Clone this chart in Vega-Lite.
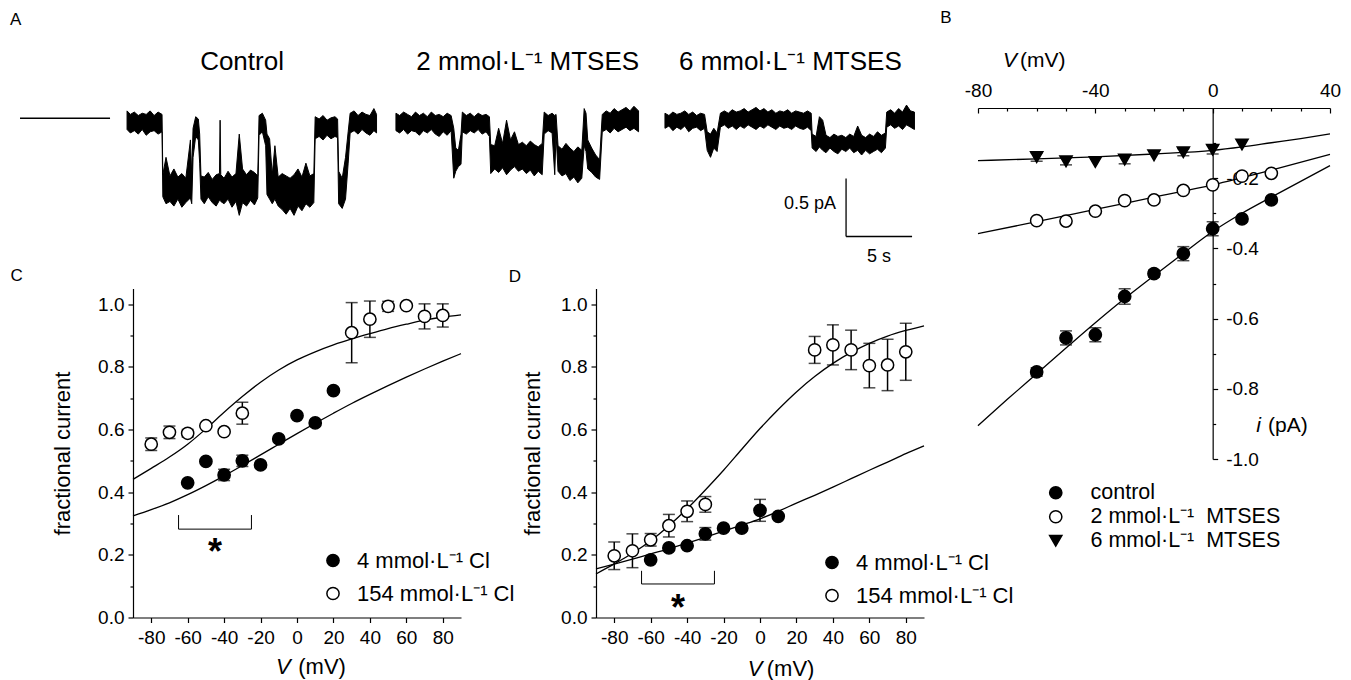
{
"$schema": "https://vega.github.io/schema/vega-lite/v6.json",
"background": "white",
"padding": {"left": 9, "top": 9, "right": 5, "bottom": 0},
"bounds": "flush",
"spacing": 845,
"resolve": {"scale": {"fill": "independent", "shape": "independent", "stroke": "independent"}, "legend": {"fill": "independent", "shape": "independent", "stroke": "independent"}},
"hconcat": [
{
"bounds": "flush",
"spacing": 32.5,
"resolve": {"scale": {"fill": "independent", "shape": "independent"}, "legend": {"fill": "independent", "shape": "independent"}},
"vconcat": [
{
"width": 792, "height": 148,
"layer": [
{"data": {"values": [
{"s":"c","t":0.05,"lo":-0.06,"hi":0.10},{"s":"c","t":0.3,"lo":-0.09,"hi":0.07},{"s":"c","t":0.6,"lo":-0.07,"hi":0.09},{"s":"c","t":0.9,"lo":-0.10,"hi":0.06},{"s":"c","t":1.2,"lo":-0.06,"hi":0.08},{"s":"c","t":1.5,"lo":-0.11,"hi":0.07},{"s":"c","t":1.8,"lo":-0.08,"hi":0.10},{"s":"c","t":2.1,"lo":-0.07,"hi":0.06},{"s":"c","t":2.4,"lo":-0.10,"hi":0.09},{"s":"c","t":2.7,"lo":-0.08,"hi":0.07},
{"s":"c","t":2.76,"lo":-0.64,"hi":-0.45},{"s":"c","t":3.0,"lo":-0.70,"hi":-0.30},{"s":"c","t":3.3,"lo":-0.68,"hi":-0.46},{"s":"c","t":3.6,"lo":-0.72,"hi":-0.40},{"s":"c","t":3.9,"lo":-0.66,"hi":-0.47},{"s":"c","t":4.2,"lo":-0.73,"hi":-0.44},{"s":"c","t":4.5,"lo":-0.69,"hi":-0.48},{"s":"c","t":4.85,"lo":-0.65,"hi":-0.15},{"s":"c","t":4.95,"lo":-0.70,"hi":-0.45},
{"s":"c","t":5.05,"lo":-0.30,"hi":-0.05},{"s":"c","t":5.25,"lo":-0.12,"hi":0.05},{"s":"c","t":5.45,"lo":-0.15,"hi":0.03},{"s":"c","t":5.55,"lo":-0.35,"hi":-0.10},
{"s":"c","t":5.65,"lo":-0.66,"hi":-0.46},{"s":"c","t":5.9,"lo":-0.70,"hi":-0.47},{"s":"c","t":6.2,"lo":-0.64,"hi":-0.43},{"s":"c","t":6.5,"lo":-0.69,"hi":-0.49},{"s":"c","t":6.8,"lo":-0.72,"hi":-0.45},{"s":"c","t":7.05,"lo":-0.67,"hi":-0.44},{"s":"c","t":7.1,"lo":-0.67,"hi":0.02},{"s":"c","t":7.15,"lo":-0.68,"hi":-0.45},{"s":"c","t":7.4,"lo":-0.70,"hi":-0.48},{"s":"c","t":7.7,"lo":-0.66,"hi":-0.42},{"s":"c","t":8.0,"lo":-0.73,"hi":-0.47},{"s":"c","t":8.3,"lo":-0.68,"hi":-0.44},{"s":"c","t":8.55,"lo":-0.80,"hi":-0.10},{"s":"c","t":8.8,"lo":-0.69,"hi":-0.40},{"s":"c","t":9.1,"lo":-0.72,"hi":-0.45},{"s":"c","t":9.4,"lo":-0.67,"hi":-0.41},{"s":"c","t":9.7,"lo":-0.71,"hi":-0.43},{"s":"c","t":9.95,"lo":-0.65,"hi":-0.46},
{"s":"c","t":10.05,"lo":-0.11,"hi":0.06},{"s":"c","t":10.3,"lo":-0.08,"hi":0.08},{"s":"c","t":10.55,"lo":-0.20,"hi":0.02},
{"s":"c","t":10.65,"lo":-0.62,"hi":-0.10},{"s":"c","t":10.85,"lo":-0.66,"hi":-0.14},{"s":"c","t":11.05,"lo":-0.70,"hi":-0.45},{"s":"c","t":11.25,"lo":-0.66,"hi":-0.20},{"s":"c","t":11.5,"lo":-0.72,"hi":-0.47},{"s":"c","t":11.8,"lo":-0.75,"hi":-0.44},{"s":"c","t":12.1,"lo":-0.79,"hi":-0.46},{"s":"c","t":12.4,"lo":-0.74,"hi":-0.48},{"s":"c","t":12.7,"lo":-0.80,"hi":-0.45},{"s":"c","t":13.0,"lo":-0.72,"hi":-0.40},{"s":"c","t":13.3,"lo":-0.76,"hi":-0.47},{"s":"c","t":13.6,"lo":-0.70,"hi":-0.35},{"s":"c","t":13.9,"lo":-0.73,"hi":-0.46},{"s":"c","t":14.2,"lo":-0.69,"hi":-0.44},
{"s":"c","t":14.3,"lo":-0.14,"hi":0.05},{"s":"c","t":14.6,"lo":-0.12,"hi":0.03},{"s":"c","t":14.9,"lo":-0.15,"hi":0.06},{"s":"c","t":15.2,"lo":-0.11,"hi":0.02},{"s":"c","t":15.5,"lo":-0.14,"hi":0.04},{"s":"c","t":15.8,"lo":-0.12,"hi":0.05},{"s":"c","t":16.0,"lo":-0.13,"hi":0.03},
{"s":"c","t":16.08,"lo":-0.70,"hi":-0.42},{"s":"c","t":16.35,"lo":-0.74,"hi":-0.48},{"s":"c","t":16.6,"lo":-0.66,"hi":-0.30},
{"s":"c","t":16.8,"lo":-0.35,"hi":-0.08},{"s":"c","t":16.95,"lo":-0.09,"hi":0.08},{"s":"c","t":17.25,"lo":-0.07,"hi":0.10},{"s":"c","t":17.55,"lo":-0.10,"hi":0.06},{"s":"c","t":17.85,"lo":-0.06,"hi":0.09},{"s":"c","t":18.15,"lo":-0.09,"hi":0.07},{"s":"c","t":18.45,"lo":-0.11,"hi":0.06},{"s":"c","t":18.75,"lo":-0.07,"hi":0.12},{"s":"c","t":18.95,"lo":-0.09,"hi":0.07},
{"s":"m2","t":20.42,"lo":-0.07,"hi":0.08},{"s":"m2","t":20.7,"lo":-0.09,"hi":0.06},{"s":"m2","t":21.0,"lo":-0.06,"hi":0.09},{"s":"m2","t":21.3,"lo":-0.10,"hi":0.07},{"s":"m2","t":21.6,"lo":-0.07,"hi":0.05},{"s":"m2","t":21.9,"lo":-0.08,"hi":0.09},{"s":"m2","t":22.2,"lo":-0.11,"hi":0.06},{"s":"m2","t":22.5,"lo":-0.07,"hi":0.08},{"s":"m2","t":22.8,"lo":-0.09,"hi":0.05},{"s":"m2","t":23.1,"lo":-0.06,"hi":0.09},{"s":"m2","t":23.4,"lo":-0.10,"hi":0.06},{"s":"m2","t":23.7,"lo":-0.12,"hi":0.07},{"s":"m2","t":24.0,"lo":-0.08,"hi":0.05},{"s":"m2","t":24.3,"lo":-0.11,"hi":0.08},{"s":"m2","t":24.6,"lo":-0.07,"hi":0.06},
{"s":"m2","t":24.8,"lo":-0.48,"hi":-0.05},{"s":"m2","t":24.95,"lo":-0.42,"hi":-0.22},{"s":"m2","t":25.15,"lo":-0.38,"hi":-0.24},{"s":"m2","t":25.35,"lo":-0.36,"hi":-0.10},
{"s":"m2","t":25.45,"lo":-0.08,"hi":0.09},{"s":"m2","t":25.75,"lo":-0.10,"hi":0.06},{"s":"m2","t":26.05,"lo":-0.07,"hi":0.08},{"s":"m2","t":26.35,"lo":-0.09,"hi":0.05},{"s":"m2","t":26.65,"lo":-0.06,"hi":0.08},{"s":"m2","t":26.95,"lo":-0.10,"hi":0.06},{"s":"m2","t":27.25,"lo":-0.08,"hi":0.07},{"s":"m2","t":27.5,"lo":-0.12,"hi":0.05},
{"s":"m2","t":27.6,"lo":-0.44,"hi":-0.19},{"s":"m2","t":27.9,"lo":-0.40,"hi":-0.20},{"s":"m2","t":28.2,"lo":-0.43,"hi":-0.05},{"s":"m2","t":28.5,"lo":-0.39,"hi":-0.18},{"s":"m2","t":28.8,"lo":-0.45,"hi":0.02},{"s":"m2","t":29.1,"lo":-0.41,"hi":-0.15},{"s":"m2","t":29.4,"lo":-0.38,"hi":-0.08},{"s":"m2","t":29.7,"lo":-0.42,"hi":-0.19},{"s":"m2","t":30.0,"lo":-0.40,"hi":-0.17},{"s":"m2","t":30.3,"lo":-0.44,"hi":-0.20},{"s":"m2","t":30.6,"lo":-0.41,"hi":-0.16},{"s":"m2","t":30.9,"lo":-0.46,"hi":-0.19},{"s":"m2","t":31.2,"lo":-0.42,"hi":-0.21},{"s":"m2","t":31.5,"lo":-0.45,"hi":-0.18},
{"s":"m2","t":31.65,"lo":-0.10,"hi":0.09},{"s":"m2","t":31.95,"lo":-0.07,"hi":0.06},{"s":"m2","t":32.25,"lo":-0.09,"hi":0.08},{"s":"m2","t":32.45,"lo":-0.45,"hi":0.06},{"s":"m2","t":32.55,"lo":-0.10,"hi":0.07},
{"s":"m2","t":32.7,"lo":-0.42,"hi":-0.20},{"s":"m2","t":33.0,"lo":-0.46,"hi":-0.23},{"s":"m2","t":33.3,"lo":-0.44,"hi":-0.18},{"s":"m2","t":33.6,"lo":-0.50,"hi":-0.22},{"s":"m2","t":33.9,"lo":-0.47,"hi":-0.25},{"s":"m2","t":34.2,"lo":-0.52,"hi":-0.21},{"s":"m2","t":34.5,"lo":-0.48,"hi":-0.24},
{"s":"m2","t":34.68,"lo":-0.20,"hi":0.12},{"s":"m2","t":34.82,"lo":-0.25,"hi":0.08},
{"s":"m2","t":34.95,"lo":-0.40,"hi":-0.15},{"s":"m2","t":35.25,"lo":-0.43,"hi":-0.22},{"s":"m2","t":35.55,"lo":-0.47,"hi":-0.28},{"s":"m2","t":35.85,"lo":-0.49,"hi":-0.32},
{"s":"m2","t":36.05,"lo":-0.08,"hi":0.07},{"s":"m2","t":36.35,"lo":-0.06,"hi":0.10},{"s":"m2","t":36.65,"lo":-0.09,"hi":0.08},{"s":"m2","t":36.95,"lo":-0.05,"hi":0.12},{"s":"m2","t":37.25,"lo":-0.08,"hi":0.09},{"s":"m2","t":37.55,"lo":-0.06,"hi":0.11},{"s":"m2","t":37.85,"lo":-0.04,"hi":0.13},{"s":"m2","t":38.15,"lo":-0.07,"hi":0.10},{"s":"m2","t":38.45,"lo":-0.05,"hi":0.14},{"s":"m2","t":38.8,"lo":-0.08,"hi":0.10},
{"s":"m6","t":40.8,"lo":-0.05,"hi":0.08},{"s":"m6","t":41.1,"lo":-0.03,"hi":0.06},{"s":"m6","t":41.4,"lo":-0.07,"hi":0.09},{"s":"m6","t":41.7,"lo":-0.04,"hi":0.07},{"s":"m6","t":42.0,"lo":-0.06,"hi":0.08},{"s":"m6","t":42.3,"lo":-0.03,"hi":0.10},{"s":"m6","t":42.6,"lo":-0.08,"hi":0.07},{"s":"m6","t":42.9,"lo":-0.05,"hi":0.09},{"s":"m6","t":43.2,"lo":-0.04,"hi":0.06},{"s":"m6","t":43.5,"lo":-0.07,"hi":0.08},{"s":"m6","t":43.8,"lo":-0.05,"hi":0.07},
{"s":"m6","t":44.0,"lo":-0.24,"hi":-0.08},{"s":"m6","t":44.25,"lo":-0.30,"hi":-0.10},{"s":"m6","t":44.5,"lo":-0.22,"hi":-0.05},{"s":"m6","t":44.75,"lo":-0.25,"hi":-0.09},
{"s":"m6","t":45.0,"lo":-0.04,"hi":0.08},{"s":"m6","t":45.3,"lo":-0.02,"hi":0.10},{"s":"m6","t":45.6,"lo":-0.05,"hi":0.08},{"s":"m6","t":45.9,"lo":-0.03,"hi":0.11},{"s":"m6","t":46.2,"lo":-0.06,"hi":0.09},{"s":"m6","t":46.5,"lo":-0.03,"hi":0.10},{"s":"m6","t":46.8,"lo":-0.05,"hi":0.12},{"s":"m6","t":47.1,"lo":-0.02,"hi":0.09},{"s":"m6","t":47.4,"lo":-0.04,"hi":0.11},{"s":"m6","t":47.7,"lo":-0.06,"hi":0.13},{"s":"m6","t":48.0,"lo":-0.03,"hi":0.10},{"s":"m6","t":48.3,"lo":-0.05,"hi":0.12},{"s":"m6","t":48.6,"lo":-0.02,"hi":0.09},{"s":"m6","t":48.9,"lo":-0.04,"hi":0.11},{"s":"m6","t":49.2,"lo":-0.06,"hi":0.08},{"s":"m6","t":49.5,"lo":-0.03,"hi":0.10},{"s":"m6","t":49.8,"lo":-0.05,"hi":0.09},{"s":"m6","t":50.1,"lo":-0.04,"hi":0.11},{"s":"m6","t":50.4,"lo":-0.06,"hi":0.08},{"s":"m6","t":50.7,"lo":-0.03,"hi":0.10},{"s":"m6","t":51.0,"lo":-0.05,"hi":0.09},{"s":"m6","t":51.3,"lo":-0.06,"hi":0.08},{"s":"m6","t":51.6,"lo":-0.04,"hi":0.10},{"s":"m6","t":51.88,"lo":-0.07,"hi":0.08},
{"s":"m6","t":51.95,"lo":-0.22,"hi":-0.10},{"s":"m6","t":52.25,"lo":-0.25,"hi":-0.12},{"s":"m6","t":52.5,"lo":-0.21,"hi":0.05},{"s":"m6","t":52.75,"lo":-0.24,"hi":0.02},{"s":"m6","t":53.0,"lo":-0.26,"hi":-0.11},{"s":"m6","t":53.3,"lo":-0.22,"hi":-0.13},{"s":"m6","t":53.6,"lo":-0.25,"hi":-0.10},{"s":"m6","t":53.9,"lo":-0.27,"hi":-0.12},{"s":"m6","t":54.2,"lo":-0.23,"hi":-0.11},{"s":"m6","t":54.5,"lo":-0.25,"hi":-0.13},{"s":"m6","t":54.8,"lo":-0.22,"hi":-0.10},{"s":"m6","t":55.1,"lo":-0.26,"hi":-0.12},{"s":"m6","t":55.4,"lo":-0.24,"hi":-0.03},{"s":"m6","t":55.7,"lo":-0.28,"hi":-0.11},{"s":"m6","t":56.0,"lo":-0.24,"hi":-0.13},{"s":"m6","t":56.3,"lo":-0.27,"hi":-0.10},{"s":"m6","t":56.6,"lo":-0.25,"hi":-0.12},{"s":"m6","t":56.9,"lo":-0.23,"hi":-0.08},{"s":"m6","t":57.2,"lo":-0.26,"hi":-0.11},{"s":"m6","t":57.5,"lo":-0.22,"hi":-0.09},
{"s":"m6","t":57.6,"lo":-0.04,"hi":0.09},{"s":"m6","t":57.9,"lo":-0.02,"hi":0.11},{"s":"m6","t":58.2,"lo":-0.05,"hi":0.08},{"s":"m6","t":58.5,"lo":-0.03,"hi":0.12},{"s":"m6","t":58.8,"lo":-0.06,"hi":0.09},{"s":"m6","t":59.1,"lo":-0.02,"hi":0.15},{"s":"m6","t":59.4,"lo":-0.04,"hi":0.10},{"s":"m6","t":59.7,"lo":-0.06,"hi":0.09}
]},
"mark": {"type": "area", "color": "black", "stroke": "black", "strokeWidth": 1, "opacity": 1},
"encoding": {
"x": {"field": "t", "type": "quantitative", "scale": {"domain": [0.5, 60.5], "nice": false, "zero": false}, "axis": null},
"y": {"field": "lo", "type": "quantitative", "scale": {"domain": [-1.15, 0.125], "nice": false, "zero": false}, "axis": null},
"y2": {"field": "hi"},
"detail": {"field": "s", "type": "nominal"}}},
{"data": {"values": [{}]}, "mark": {"type": "rule", "color": "black", "strokeWidth": 1.5}, "encoding": {"x": {"datum": -8.06, "axis": null}, "x2": {"datum": -1.24}, "y": {"datum": 0.037, "axis": null}}},
{"data": {"values": [{}]}, "mark": {"type": "rule", "color": "black", "strokeWidth": 1.3}, "encoding": {"x": {"datum": 54.52, "axis": null}, "y": {"datum": -0.482, "axis": null}, "y2": {"datum": -0.982}}},
{"data": {"values": [{}]}, "mark": {"type": "rule", "color": "black", "strokeWidth": 1.3}, "encoding": {"x": {"datum": 54.52, "axis": null}, "x2": {"datum": 59.52}, "y": {"datum": -0.982, "axis": null}}},
{"data": {"values": [{}]}, "mark": {"type": "text", "text": "A", "fontSize": 17, "align": "left", "baseline": "middle"}, "encoding": {"x": {"datum": -8.82, "axis": null}, "y": {"datum": 0.879, "axis": null}}},
{"data": {"values": [{}]}, "mark": {"type": "text", "text": "Control", "fontSize": 26, "align": "center", "baseline": "middle"}, "encoding": {"x": {"datum": 8.76, "axis": null}, "y": {"datum": 0.517, "axis": null}}},
{"data": {"values": [{}]}, "mark": {"type": "text", "text": "2 mmol·L⁻¹ MTSES", "fontSize": 26, "align": "center", "baseline": "middle"}, "encoding": {"x": {"datum": 30.4, "axis": null}, "y": {"datum": 0.517, "axis": null}}},
{"data": {"values": [{}]}, "mark": {"type": "text", "text": "6 mmol·L⁻¹ MTSES", "fontSize": 26, "align": "center", "baseline": "middle"}, "encoding": {"x": {"datum": 50.3, "axis": null}, "y": {"datum": 0.517, "axis": null}}},
{"data": {"values": [{}]}, "mark": {"type": "text", "text": "0.5 pA", "fontSize": 18, "align": "right", "baseline": "middle"}, "encoding": {"x": {"datum": 53.76, "axis": null}, "y": {"datum": -0.698, "axis": null}}},
{"data": {"values": [{}]}, "mark": {"type": "text", "text": "5 s", "fontSize": 18, "align": "center", "baseline": "middle"}, "encoding": {"x": {"datum": 57.02, "axis": null}, "y": {"datum": -1.159, "axis": null}}}
]
},
{
"bounds": "flush",
"spacing": 135,
"resolve": {"scale": {"fill": "independent", "shape": "independent"}, "legend": {"fill": "independent", "shape": "independent"}},
"hconcat": [
{
"width": 328, "height": 329,
"resolve": {"axis": {"x": "independent", "y": "independent"}},
"layer": [
{"data": {"values": [
{"s":"h","V":-90,"f":0.441},{"s":"h","V":-80,"f":0.476},{"s":"h","V":-70,"f":0.512},{"s":"h","V":-60,"f":0.553},{"s":"h","V":-50,"f":0.602},{"s":"h","V":-40,"f":0.655},{"s":"h","V":-30,"f":0.705},{"s":"h","V":-20,"f":0.751},{"s":"h","V":-10,"f":0.790},{"s":"h","V":0,"f":0.822},{"s":"h","V":10,"f":0.848},{"s":"h","V":20,"f":0.870},{"s":"h","V":30,"f":0.889},{"s":"h","V":40,"f":0.906},{"s":"h","V":50,"f":0.922},{"s":"h","V":60,"f":0.936},{"s":"h","V":70,"f":0.949},{"s":"h","V":80,"f":0.959},{"s":"h","V":90,"f":0.966},
{"s":"l","V":-90,"f":0.324},{"s":"l","V":-80,"f":0.344},{"s":"l","V":-70,"f":0.366},{"s":"l","V":-60,"f":0.392},{"s":"l","V":-50,"f":0.421},{"s":"l","V":-40,"f":0.452},{"s":"l","V":-30,"f":0.485},{"s":"l","V":-20,"f":0.519},{"s":"l","V":-10,"f":0.553},{"s":"l","V":0,"f":0.587},{"s":"l","V":10,"f":0.620},{"s":"l","V":20,"f":0.652},{"s":"l","V":30,"f":0.683},{"s":"l","V":40,"f":0.712},{"s":"l","V":50,"f":0.740},{"s":"l","V":60,"f":0.767},{"s":"l","V":70,"f":0.793},{"s":"l","V":80,"f":0.818},{"s":"l","V":90,"f":0.842}
]},
"mark": {"type": "line", "color": "black", "strokeWidth": 1.3, "interpolate": "monotone"},
"encoding": {
"x": {"field": "V", "type": "quantitative", "scale": {"domain": [-90, 90], "nice": false, "zero": false},
 "axis": {"orient": "bottom", "values": [-80,-60,-40,-20,0,20,40,60,80], "labelExpr": "datum.value < 0 ? '-' + format(-datum.value, 'd') : format(datum.value, 'd')", "tickSize": 5, "labelPadding": 6, "title": null, "labelFlush": false}},
"y": {"field": "f", "type": "quantitative", "scale": {"domain": [0, 1.05], "nice": false, "zero": false},
 "axis": {"orient": "left", "values": [0,0.2,0.4,0.6,0.8,1.0], "format": ".1f", "tickSize": 5, "labelPadding": 4, "title": "fractional current", "titlePadding": 23}},
"detail": {"field": "s", "type": "nominal"}}},
{"data": {"values": [
{"V":-40,"lo":0.437,"hi":0.473},{"V":-30,"lo":0.482,"hi":0.518},
{"V":-80,"lo":0.533,"hi":0.573},{"V":-70,"lo":0.571,"hi":0.611},{"V":-60,"lo":0.576,"hi":0.600},{"V":-30,"lo":0.617,"hi":0.687},{"V":30,"lo":0.813,"hi":1.005},{"V":40,"lo":0.894,"hi":1.010},{"V":50,"lo":0.977,"hi":1.009},{"V":70,"lo":0.921,"hi":1.001},{"V":80,"lo":0.927,"hi":1.001}
]},
"mark": {"type": "errorbar", "ticks": true, "size": 12, "thickness": 1.5, "color": "black"},
"encoding": {"x": {"field": "V", "type": "quantitative", "axis": null}, "y": {"field": "lo", "type": "quantitative", "axis": null}, "y2": {"field": "hi"}}},
{"data": {"values": [
{"V":-60,"f":0.430,"clC":"4 mmol·L⁻¹ Cl"},{"V":-50,"f":0.498,"clC":"4 mmol·L⁻¹ Cl"},{"V":-40,"f":0.455,"clC":"4 mmol·L⁻¹ Cl"},{"V":-30,"f":0.500,"clC":"4 mmol·L⁻¹ Cl"},{"V":-20,"f":0.487,"clC":"4 mmol·L⁻¹ Cl"},{"V":-10,"f":0.570,"clC":"4 mmol·L⁻¹ Cl"},{"V":0,"f":0.644,"clC":"4 mmol·L⁻¹ Cl"},{"V":10,"f":0.621,"clC":"4 mmol·L⁻¹ Cl"},{"V":20,"f":0.724,"clC":"4 mmol·L⁻¹ Cl"},
{"V":-80,"f":0.553,"clC":"154 mmol·L⁻¹ Cl"},{"V":-70,"f":0.591,"clC":"154 mmol·L⁻¹ Cl"},{"V":-60,"f":0.588,"clC":"154 mmol·L⁻¹ Cl"},{"V":-50,"f":0.612,"clC":"154 mmol·L⁻¹ Cl"},{"V":-40,"f":0.593,"clC":"154 mmol·L⁻¹ Cl"},{"V":-30,"f":0.652,"clC":"154 mmol·L⁻¹ Cl"},{"V":30,"f":0.909,"clC":"154 mmol·L⁻¹ Cl"},{"V":40,"f":0.952,"clC":"154 mmol·L⁻¹ Cl"},{"V":50,"f":0.993,"clC":"154 mmol·L⁻¹ Cl"},{"V":60,"f":0.995,"clC":"154 mmol·L⁻¹ Cl"},{"V":70,"f":0.961,"clC":"154 mmol·L⁻¹ Cl"},{"V":80,"f":0.964,"clC":"154 mmol·L⁻¹ Cl"}
]},
"mark": {"type": "point", "shape": "circle", "filled": true, "size": 150, "stroke": "black", "strokeWidth": 1.5, "opacity": 1},
"encoding": {
"x": {"field": "V", "type": "quantitative", "axis": null},
"y": {"field": "f", "type": "quantitative", "axis": {"orient": "left", "values": [0.1,0.3,0.5,0.7,0.9], "labels": false, "domain": false, "tickSize": 3, "title": null}},
"stroke": {"value": "black"},
"fill": {"field": "clC", "type": "nominal", "scale": {"domain": ["4 mmol·L⁻¹ Cl", "154 mmol·L⁻¹ Cl"], "range": ["black", "white"]},
 "legend": {"title": null, "orient": "none", "legendX": 189, "legendY": 261, "labelFontSize": 22, "labelLimit": 0, "symbolSize": 150, "symbolType": "circle", "symbolStrokeColor": "black", "symbolStrokeWidth": 1.5, "labelOffset": 13, "rowPadding": 11, "padding": 0}}}},
{"data": {"values": [{}]}, "mark": {"type": "rule", "color": "black", "strokeWidth": 1}, "encoding": {"x": {"datum": -65, "axis": null}, "x2": {"datum": -25}, "y": {"datum": 0.282, "axis": null}}},
{"data": {"values": [{}]}, "mark": {"type": "rule", "color": "black", "strokeWidth": 1}, "encoding": {"x": {"datum": -65, "axis": null}, "y": {"datum": 0.282, "axis": null}, "y2": {"datum": 0.327}}},
{"data": {"values": [{}]}, "mark": {"type": "rule", "color": "black", "strokeWidth": 1}, "encoding": {"x": {"datum": -25, "axis": null}, "y": {"datum": 0.282, "axis": null}, "y2": {"datum": 0.327}}},
{"data": {"values": [{}]}, "mark": {"type": "text", "text": "*", "fontSize": 36, "fontWeight": "bold", "align": "center", "baseline": "middle", "dy": 8}, "encoding": {"x": {"datum": -45, "axis": null}, "y": {"datum": 0.231, "axis": null}}},
{"data": {"values": [{}]}, "mark": {"type": "text", "text": "C", "fontSize": 17, "align": "center", "baseline": "middle"}, "encoding": {"x": {"datum": -153.8, "axis": null}, "y": {"datum": 1.09, "axis": null}}},
{"data": {"values": [{}]}, "mark": {"type": "text", "text": "V", "fontSize": 22, "fontStyle": "italic", "align": "center", "baseline": "middle"}, "encoding": {"x": {"datum": -7.5, "axis": null}, "y": {"datum": -0.159, "axis": null}}},
{"data": {"values": [{}]}, "mark": {"type": "text", "text": "(mV)", "fontSize": 22, "align": "left", "baseline": "middle"}, "encoding": {"x": {"datum": 0.7, "axis": null}, "y": {"datum": -0.159, "axis": null}}}
]
},
{
"width": 328, "height": 329,
"resolve": {"axis": {"x": "independent", "y": "independent"}},
"layer": [
{"data": {"values": [
{"s":"h","V":-90,"f":0.139},{"s":"h","V":-80,"f":0.171},{"s":"h","V":-70,"f":0.205},{"s":"h","V":-60,"f":0.245},{"s":"h","V":-50,"f":0.293},{"s":"h","V":-40,"f":0.347},{"s":"h","V":-30,"f":0.407},{"s":"h","V":-20,"f":0.470},{"s":"h","V":-10,"f":0.537},{"s":"h","V":0,"f":0.603},{"s":"h","V":10,"f":0.664},{"s":"h","V":20,"f":0.720},{"s":"h","V":30,"f":0.769},{"s":"h","V":40,"f":0.811},{"s":"h","V":50,"f":0.846},{"s":"h","V":60,"f":0.875},{"s":"h","V":70,"f":0.898},{"s":"h","V":80,"f":0.916},{"s":"h","V":90,"f":0.931},
{"s":"l","V":-90,"f":0.155},{"s":"l","V":-80,"f":0.170},{"s":"l","V":-70,"f":0.186},{"s":"l","V":-60,"f":0.203},{"s":"l","V":-50,"f":0.219},{"s":"l","V":-40,"f":0.237},{"s":"l","V":-30,"f":0.256},{"s":"l","V":-20,"f":0.276},{"s":"l","V":-10,"f":0.295},{"s":"l","V":0,"f":0.315},{"s":"l","V":10,"f":0.339},{"s":"l","V":20,"f":0.365},{"s":"l","V":30,"f":0.390},{"s":"l","V":40,"f":0.416},{"s":"l","V":50,"f":0.443},{"s":"l","V":60,"f":0.470},{"s":"l","V":70,"f":0.496},{"s":"l","V":80,"f":0.523},{"s":"l","V":90,"f":0.548}
]},
"mark": {"type": "line", "color": "black", "strokeWidth": 1.3, "interpolate": "monotone"},
"encoding": {
"x": {"field": "V", "type": "quantitative", "scale": {"domain": [-90, 90], "nice": false, "zero": false},
 "axis": {"orient": "bottom", "values": [-80,-60,-40,-20,0,20,40,60,80], "labelExpr": "datum.value < 0 ? '-' + format(-datum.value, 'd') : format(datum.value, 'd')", "tickSize": 5, "labelPadding": 6, "title": null, "labelFlush": false}},
"y": {"field": "f", "type": "quantitative", "scale": {"domain": [0, 1.05], "nice": false, "zero": false},
 "axis": {"orient": "left", "values": [0,0.2,0.4,0.6,0.8,1.0], "format": ".1f", "tickSize": 5, "labelPadding": 4, "title": "fractional current", "titlePadding": 16}},
"detail": {"field": "s", "type": "nominal"}}},
{"data": {"values": [
{"V":-30,"lo":0.247,"hi":0.287},{"V":0,"lo":0.307,"hi":0.377},
{"V":-80,"lo":0.153,"hi":0.241},{"V":-70,"lo":0.159,"hi":0.267},{"V":-60,"lo":0.228,"hi":0.268},{"V":-50,"lo":0.257,"hi":0.329},{"V":-40,"lo":0.306,"hi":0.372},{"V":-30,"lo":0.336,"hi":0.386},{"V":30,"lo":0.811,"hi":0.897},{"V":40,"lo":0.806,"hi":0.934},{"V":50,"lo":0.791,"hi":0.917},{"V":60,"lo":0.733,"hi":0.875},{"V":70,"lo":0.724,"hi":0.888},{"V":80,"lo":0.757,"hi":0.939}
]},
"mark": {"type": "errorbar", "ticks": true, "size": 12, "thickness": 1.5, "color": "black"},
"encoding": {"x": {"field": "V", "type": "quantitative", "axis": null}, "y": {"field": "lo", "type": "quantitative", "axis": null}, "y2": {"field": "hi"}}},
{"data": {"values": [
{"V":-60,"f":0.184,"clD":"4 mmol·L⁻¹ Cl"},{"V":-50,"f":0.222,"clD":"4 mmol·L⁻¹ Cl"},{"V":-40,"f":0.229,"clD":"4 mmol·L⁻¹ Cl"},{"V":-30,"f":0.267,"clD":"4 mmol·L⁻¹ Cl"},{"V":-20,"f":0.285,"clD":"4 mmol·L⁻¹ Cl"},{"V":-10,"f":0.285,"clD":"4 mmol·L⁻¹ Cl"},{"V":0,"f":0.342,"clD":"4 mmol·L⁻¹ Cl"},{"V":10,"f":0.323,"clD":"4 mmol·L⁻¹ Cl"},
{"V":-80,"f":0.197,"clD":"154 mmol·L⁻¹ Cl"},{"V":-70,"f":0.213,"clD":"154 mmol·L⁻¹ Cl"},{"V":-60,"f":0.248,"clD":"154 mmol·L⁻¹ Cl"},{"V":-50,"f":0.293,"clD":"154 mmol·L⁻¹ Cl"},{"V":-40,"f":0.339,"clD":"154 mmol·L⁻¹ Cl"},{"V":-30,"f":0.361,"clD":"154 mmol·L⁻¹ Cl"},{"V":30,"f":0.854,"clD":"154 mmol·L⁻¹ Cl"},{"V":40,"f":0.870,"clD":"154 mmol·L⁻¹ Cl"},{"V":50,"f":0.854,"clD":"154 mmol·L⁻¹ Cl"},{"V":60,"f":0.804,"clD":"154 mmol·L⁻¹ Cl"},{"V":70,"f":0.806,"clD":"154 mmol·L⁻¹ Cl"},{"V":80,"f":0.848,"clD":"154 mmol·L⁻¹ Cl"}
]},
"mark": {"type": "point", "shape": "circle", "filled": true, "size": 150, "stroke": "black", "strokeWidth": 1.5, "opacity": 1},
"encoding": {
"x": {"field": "V", "type": "quantitative", "axis": null},
"y": {"field": "f", "type": "quantitative", "axis": {"orient": "left", "values": [0.1,0.3,0.5,0.7,0.9], "labels": false, "domain": false, "tickSize": 3, "title": null}},
"stroke": {"value": "black"},
"fill": {"field": "clD", "type": "nominal", "scale": {"domain": ["4 mmol·L⁻¹ Cl", "154 mmol·L⁻¹ Cl"], "range": ["black", "white"]},
 "legend": {"title": null, "orient": "none", "legendX": 225, "legendY": 263, "labelFontSize": 22, "labelLimit": 0, "symbolSize": 150, "symbolType": "circle", "symbolStrokeColor": "black", "symbolStrokeWidth": 1.5, "labelOffset": 13, "rowPadding": 11, "padding": 0}}}},
{"data": {"values": [{}]}, "mark": {"type": "rule", "color": "black", "strokeWidth": 1}, "encoding": {"x": {"datum": -65, "axis": null}, "x2": {"datum": -25}, "y": {"datum": 0.107, "axis": null}}},
{"data": {"values": [{}]}, "mark": {"type": "rule", "color": "black", "strokeWidth": 1}, "encoding": {"x": {"datum": -65, "axis": null}, "y": {"datum": 0.107, "axis": null}, "y2": {"datum": 0.149}}},
{"data": {"values": [{}]}, "mark": {"type": "rule", "color": "black", "strokeWidth": 1}, "encoding": {"x": {"datum": -25, "axis": null}, "y": {"datum": 0.107, "axis": null}, "y2": {"datum": 0.149}}},
{"data": {"values": [{}]}, "mark": {"type": "text", "text": "*", "fontSize": 36, "fontWeight": "bold", "align": "center", "baseline": "middle", "dy": 8}, "encoding": {"x": {"datum": -45, "axis": null}, "y": {"datum": 0.053, "axis": null}}},
{"data": {"values": [{}]}, "mark": {"type": "text", "text": "D", "fontSize": 17, "align": "center", "baseline": "middle"}, "encoding": {"x": {"datum": -134.5, "axis": null}, "y": {"datum": 1.088, "axis": null}}},
{"data": {"values": [{}]}, "mark": {"type": "text", "text": "V", "fontSize": 22, "fontStyle": "italic", "align": "center", "baseline": "middle"}, "encoding": {"x": {"datum": -2.7, "axis": null}, "y": {"datum": -0.164, "axis": null}}},
{"data": {"values": [{}]}, "mark": {"type": "text", "text": "(mV)", "fontSize": 22, "align": "left", "baseline": "middle"}, "encoding": {"x": {"datum": 3.7, "axis": null}, "y": {"datum": -0.164, "axis": null}}}
]
}
]
}
]
},
{
"width": 352, "height": 351,
"resolve": {"axis": {"x": "independent", "y": "independent"}},
"layer": [
{"data": {"values": [
{"s":"ctl","V":-80,"i":-0.905},{"s":"ctl","V":-70,"i":-0.830},{"s":"ctl","V":-60,"i":-0.757},{"s":"ctl","V":-50,"i":-0.684},{"s":"ctl","V":-40,"i":-0.612},{"s":"ctl","V":-30,"i":-0.543},{"s":"ctl","V":-20,"i":-0.478},{"s":"ctl","V":-10,"i":-0.414},{"s":"ctl","V":0,"i":-0.352},{"s":"ctl","V":10,"i":-0.300},{"s":"ctl","V":20,"i":-0.254},{"s":"ctl","V":30,"i":-0.209},{"s":"ctl","V":40,"i":-0.164},
{"s":"m2","V":-80,"i":-0.358},{"s":"m2","V":-60,"i":-0.324},{"s":"m2","V":-40,"i":-0.289},{"s":"m2","V":-20,"i":-0.254},{"s":"m2","V":0,"i":-0.219},{"s":"m2","V":20,"i":-0.177},{"s":"m2","V":40,"i":-0.132},
{"s":"m6","V":-80,"i":-0.150},{"s":"m6","V":-60,"i":-0.145},{"s":"m6","V":-40,"i":-0.139},{"s":"m6","V":-20,"i":-0.131},{"s":"m6","V":0,"i":-0.121},{"s":"m6","V":10,"i":-0.111},{"s":"m6","V":20,"i":-0.099},{"s":"m6","V":30,"i":-0.087},{"s":"m6","V":40,"i":-0.074}
]},
"mark": {"type": "line", "color": "black", "strokeWidth": 1.3, "interpolate": "monotone"},
"encoding": {
"x": {"field": "V", "type": "quantitative", "scale": {"domain": [-80, 40], "nice": false, "zero": false},
 "axis": {"orient": "top", "values": [-80,-40,0,40], "labelExpr": "datum.value < 0 ? '-' + format(-datum.value, 'd') : format(datum.value, 'd')", "tickSize": -5, "labelPadding": 13, "title": null, "labelFlush": false}},
"y": {"field": "i", "type": "quantitative", "scale": {"domain": [-1.0, 0], "nice": false, "zero": false},
 "axis": {"orient": "right", "offset": -117.33, "values": [-0.2,-0.4,-0.6,-0.8,-1.0], "labelExpr": "'-' + format(-datum.value, '.1f')", "tickSize": 5, "labelPadding": 8, "title": null}},
"detail": {"field": "s", "type": "nominal"}}},
{"data": {"values": [
{"V":-60,"lo":-0.764,"hi":-0.740},{"V":-50,"lo":-0.675,"hi":-0.635},{"V":-40,"lo":-0.666,"hi":-0.626},{"V":-30,"lo":-0.559,"hi":-0.515},{"V":-20,"lo":-0.482,"hi":-0.462},{"V":-10,"lo":-0.435,"hi":-0.395},{"V":0,"lo":-0.364,"hi":-0.324},
{"V":-60,"lo":-0.152,"hi":-0.128},{"V":-50,"lo":-0.162,"hi":-0.142},{"V":-30,"lo":-0.159,"hi":-0.135},{"V":-10,"lo":-0.136,"hi":-0.116},{"V":0,"lo":-0.131,"hi":-0.107}
]},
"mark": {"type": "errorbar", "ticks": true, "size": 12, "thickness": 1.5, "color": "black"},
"encoding": {"x": {"field": "V", "type": "quantitative", "axis": null}, "y": {"field": "lo", "type": "quantitative", "axis": null}, "y2": {"field": "hi"}}},
{"data": {"values": [
{"V":-60,"i":-0.752,"cond":"control"},{"V":-50,"i":-0.655,"cond":"control"},{"V":-40,"i":-0.646,"cond":"control"},{"V":-30,"i":-0.537,"cond":"control"},{"V":-20,"i":-0.472,"cond":"control"},{"V":-10,"i":-0.415,"cond":"control"},{"V":0,"i":-0.344,"cond":"control"},{"V":10,"i":-0.316,"cond":"control"},{"V":20,"i":-0.262,"cond":"control"},
{"V":-60,"i":-0.321,"cond":"2 mmol·L⁻¹\u00a0 MTSES"},{"V":-50,"i":-0.322,"cond":"2 mmol·L⁻¹\u00a0 MTSES"},{"V":-40,"i":-0.294,"cond":"2 mmol·L⁻¹\u00a0 MTSES"},{"V":-30,"i":-0.264,"cond":"2 mmol·L⁻¹\u00a0 MTSES"},{"V":-20,"i":-0.262,"cond":"2 mmol·L⁻¹\u00a0 MTSES"},{"V":-10,"i":-0.235,"cond":"2 mmol·L⁻¹\u00a0 MTSES"},{"V":0,"i":-0.219,"cond":"2 mmol·L⁻¹\u00a0 MTSES"},{"V":10,"i":-0.194,"cond":"2 mmol·L⁻¹\u00a0 MTSES"},{"V":20,"i":-0.186,"cond":"2 mmol·L⁻¹\u00a0 MTSES"},
{"V":-60,"i":-0.140,"cond":"6 mmol·L⁻¹\u00a0 MTSES"},{"V":-50,"i":-0.152,"cond":"6 mmol·L⁻¹\u00a0 MTSES"},{"V":-40,"i":-0.154,"cond":"6 mmol·L⁻¹\u00a0 MTSES"},{"V":-30,"i":-0.147,"cond":"6 mmol·L⁻¹\u00a0 MTSES"},{"V":-20,"i":-0.135,"cond":"6 mmol·L⁻¹\u00a0 MTSES"},{"V":-10,"i":-0.126,"cond":"6 mmol·L⁻¹\u00a0 MTSES"},{"V":0,"i":-0.119,"cond":"6 mmol·L⁻¹\u00a0 MTSES"},{"V":10,"i":-0.104,"cond":"6 mmol·L⁻¹\u00a0 MTSES"}
]},
"mark": {"type": "point", "filled": true, "size": 150, "strokeWidth": 1.5, "opacity": 1},
"encoding": {
"x": {"field": "V", "type": "quantitative", "axis": {"orient": "top", "values": [-70,-60,-50,-30,-20,-10,10,20,30], "labels": false, "domain": false, "tickSize": -3, "title": null}},
"y": {"field": "i", "type": "quantitative", "axis": {"orient": "right", "offset": -117.33, "values": [-0.1,-0.3,-0.5,-0.7,-0.9], "labels": false, "domain": false, "tickSize": 3, "title": null}},
"stroke": {"field": "cond", "type": "nominal", "scale": {"domain": ["control", "2 mmol·L⁻¹\u00a0 MTSES", "6 mmol·L⁻¹\u00a0 MTSES"], "range": ["black", "black", "black"]},
 "legend": {"title": null, "orient": "none", "legendX": 67, "legendY": 374, "labelFontSize": 21.5, "labelLimit": 0, "symbolSize": 150, "symbolStrokeWidth": 1.5, "labelOffset": 24, "rowPadding": 1, "padding": 0}},
"fill": {"field": "cond", "type": "nominal", "scale": {"domain": ["control", "2 mmol·L⁻¹\u00a0 MTSES", "6 mmol·L⁻¹\u00a0 MTSES"], "range": ["black", "white", "black"]},
 "legend": {"title": null, "orient": "none", "legendX": 67, "legendY": 374, "labelFontSize": 21.5, "labelLimit": 0, "symbolSize": 150, "symbolStrokeWidth": 1.5, "labelOffset": 24, "rowPadding": 1, "padding": 0}},
"shape": {"field": "cond", "type": "nominal", "scale": {"domain": ["control", "2 mmol·L⁻¹\u00a0 MTSES", "6 mmol·L⁻¹\u00a0 MTSES"], "range": ["circle", "circle", "triangle-down"]},
 "legend": {"title": null, "orient": "none", "legendX": 67, "legendY": 374, "labelFontSize": 21.5, "labelLimit": 0, "symbolSize": 150, "symbolStrokeWidth": 1.5, "labelOffset": 24, "rowPadding": 1, "padding": 0}}}},
{"data": {"values": [{}]}, "mark": {"type": "text", "text": "B", "fontSize": 17, "align": "center", "baseline": "middle"}, "encoding": {"x": {"datum": -90.9, "axis": null}, "y": {"datum": 0.255, "axis": null}}},
{"data": {"values": [{}]}, "mark": {"type": "text", "text": "V", "fontSize": 21, "fontStyle": "italic", "align": "left", "baseline": "middle"}, "encoding": {"x": {"datum": -71.5, "axis": null}, "y": {"datum": 0.135, "axis": null}}},
{"data": {"values": [{}]}, "mark": {"type": "text", "text": "(mV)", "fontSize": 21, "align": "left", "baseline": "middle"}, "encoding": {"x": {"datum": -65.7, "axis": null}, "y": {"datum": 0.135, "axis": null}}},
{"data": {"values": [{}]}, "mark": {"type": "text", "text": "i", "fontSize": 21, "fontStyle": "italic", "align": "left", "baseline": "middle"}, "encoding": {"x": {"datum": 14.9, "axis": null}, "y": {"datum": -0.905, "axis": null}}},
{"data": {"values": [{}]}, "mark": {"type": "text", "text": "(pA)", "fontSize": 21, "align": "left", "baseline": "middle"}, "encoding": {"x": {"datum": 18.9, "axis": null}, "y": {"datum": -0.905, "axis": null}}}
]
}
],
"config": {
"font": "Liberation Sans",
"view": {"stroke": null},
"axis": {"grid": false, "domainColor": "black", "tickColor": "black", "labelColor": "black", "titleColor": "black", "domainWidth": 1.2, "tickWidth": 1.2, "labelFontSize": 19, "titleFontSize": 22, "titleFontWeight": "normal", "labelFont": "Liberation Sans", "titleFont": "Liberation Sans"},
"legend": {"labelFont": "Liberation Sans", "labelColor": "black"},
"text": {"font": "Liberation Sans", "color": "black"}
}
}
